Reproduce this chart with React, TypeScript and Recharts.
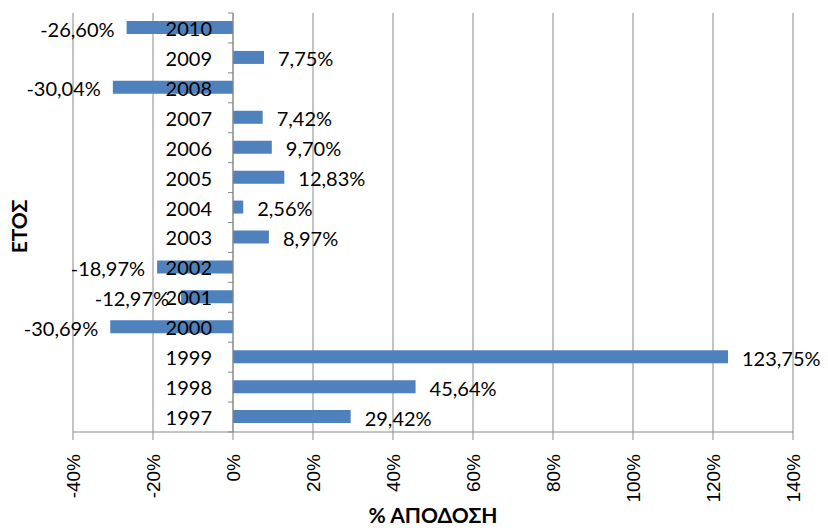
import React from "react";
import { BarChart, Bar, XAxis, YAxis, CartesianGrid, ReferenceLine, LabelList } from "recharts";

const years = ["1997", "1998", "1999", "2000", "2001", "2002", "2003", "2004", "2005", "2006", "2007", "2008", "2009", "2010"];
const returns = [29.42, 45.64, 123.75, -30.69, -12.97, -18.97, 8.97, 2.56, 12.83, 9.7, 7.42, -30.04, 7.75, -26.6];
const xTicks = [-40, -20, 0, 20, 40, 60, 80, 100, 120, 140];
const xDomain = [-40, 140];

const data = years.map((y, i) => ({ year: y, value: returns[i] }));

const W = 828;
const H = 528;
const M = { top: 13, right: 35, bottom: 6, left: 0 };
const Y_AXIS_W = 73;
const X_AXIS_H = 90;
const plotLeft = M.left + Y_AXIS_W;
const plotW = W - M.right - plotLeft;
const plotH = H - M.top - M.bottom - X_AXIS_H;
const zeroX = plotLeft + (plotW * (0 - xDomain[0])) / (xDomain[1] - xDomain[0]);
const band = plotH / years.length;

const GRID = "#898989";
const BAR = "#4F81BD";
const LABEL_FONT = "Lato, 'Open Sans', sans-serif";
const TICK_FONT = "'Liberation Sans', Arial, sans-serif";

const fmt = (v: number) => v.toFixed(2).replace(".", ",") + "%";

const YTick = (props: any) => {
  const { y, payload, index } = props;
  return (
    <g>
      <line x1={zeroX - 5} x2={zeroX} y1={y - band / 2} y2={y - band / 2} stroke={GRID} />
      {index === 0 && <line x1={zeroX - 5} x2={zeroX} y1={y + band / 2} y2={y + band / 2} stroke={GRID} />}
      <text x={zeroX - 21} y={y} textAnchor="end" dominantBaseline="central" fontFamily={LABEL_FONT} fontSize={20} fill="#000">
        {payload.value}
      </text>
    </g>
  );
};

const XTick = (props: any) => {
  const { x, y, payload } = props;
  const ay = y + 12;
  return (
    <text
      x={x}
      y={ay}
      transform={`rotate(-90, ${x}, ${ay})`}
      textAnchor="end"
      dominantBaseline="central"
      fontFamily={TICK_FONT}
      fontSize={19}
      fill="#000"
    >
      {payload.value + "%"}
    </text>
  );
};

const ValueLabel = (props: any) => {
  const { x, y, width, height, value } = props;
  const left = Math.min(x, x + width);
  const right = Math.max(x, x + width);
  const cy = y + height / 2 + 1;
  const neg = value < 0;
  return (
    <text
      x={neg ? left - 12 : right + 14}
      y={cy}
      textAnchor={neg ? "end" : "start"}
      dominantBaseline="central"
      fontFamily={LABEL_FONT}
      fontSize={20}
      fill="#000"
    >
      {fmt(value)}
    </text>
  );
};

export default function App() {
  return (
    <div style={{ position: "absolute", left: 0, top: 0, width: W, height: H, background: "#fff" }}>
      <BarChart width={W} height={H} data={data} layout="vertical" margin={M} barSize={13}>
        <CartesianGrid horizontal={false} vertical={true} stroke={GRID} strokeWidth={1} />
        <XAxis
          type="number"
          domain={xDomain}
          ticks={xTicks}
          allowDataOverflow
          height={X_AXIS_H}
          stroke={GRID}
          tickSize={8}
          tick={<XTick />}
          interval={0}
          label={{
            content: (p: any) => (
              <text
                x={plotLeft + plotW / 2}
                y={H - 5}
                textAnchor="middle"
                fontFamily={LABEL_FONT}
                fontWeight="bold"
                fontSize={21}
                fill="#000"
              >
                % ΑΠΟΔΟΣΗ
              </text>
            ),
          }}
        />
        <YAxis
          type="category"
          dataKey="year"
          reversed
          width={Y_AXIS_W}
          axisLine={false}
          tickLine={false}
          tick={<YTick />}
          interval={0}
          label={{
            content: (p: any) => (
              <text
                x={18}
                y={M.top + plotH / 2 + 4}
                transform={`rotate(-90, 18, ${M.top + plotH / 2 + 4})`}
                textAnchor="middle"
                dominantBaseline="central"
                fontFamily={LABEL_FONT}
                fontWeight="bold"
                fontSize={21}
                fill="#000"
              >
                ΕΤΟΣ
              </text>
            ),
          }}
        />
        <Bar dataKey="value" fill={BAR} isAnimationActive={false}>
          <LabelList dataKey="value" content={<ValueLabel />} />
        </Bar>
        <ReferenceLine x={0} stroke={GRID} strokeWidth={1} />
      </BarChart>
    </div>
  );
}
